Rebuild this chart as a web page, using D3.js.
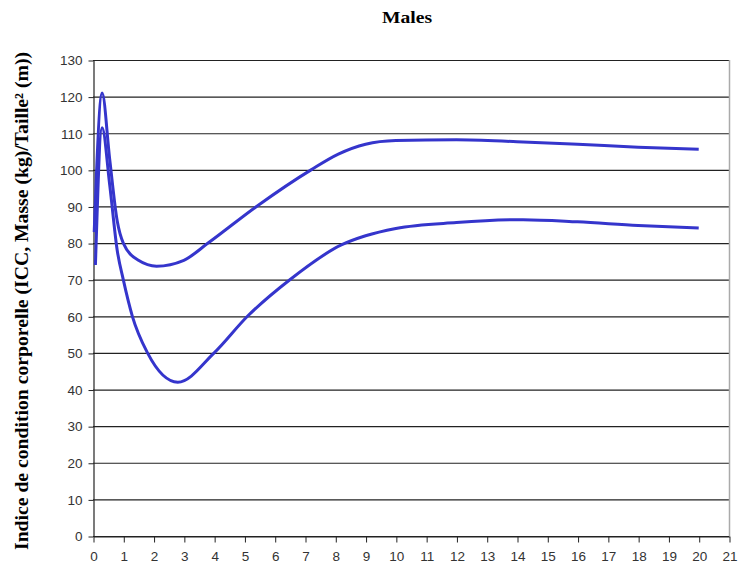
<!DOCTYPE html>
<html>
<head>
<meta charset="utf-8">
<script src="https://cdn.jsdelivr.net/npm/d3@7"></script>
<style>
  body { margin: 0; background: #fff; }
  svg { display: block; }
</style>
</head>
<body>
<script>
// values
const upperAge = [0.04, 0.3, 0.55, 0.8, 1, 1.5, 2.1, 3, 3.8, 5.4, 7.2, 8.1, 9, 10, 12, 14, 16, 18, 20];
const upperVal = [83, 121, 103, 86, 80, 75.3, 73.7, 75.3, 80, 90, 100, 104.3, 107, 108, 108.2, 107.7, 107, 106.2, 105.6];
const lowerAge = [0.08, 0.3, 0.55, 0.8, 1, 1.3, 1.8, 2.8, 4, 5.1, 6.5, 8.2, 9, 10, 12, 14.2, 16, 18, 20];
const lowerVal = [74, 111.5, 96, 78, 70, 60, 50, 42, 50, 60, 70, 79.5, 82, 84, 85.6, 86.4, 85.8, 84.8, 84.1];
const xTicks = d3.range(0, 22);
const yTicks = d3.range(0, 131, 10);

const width = 746, height = 572;
const margin = {top: 60, right: 17, bottom: 36, left: 93};

const svg = d3.select("body").append("svg")
  .attr("width", width)
  .attr("height", height);

const x = d3.scaleLinear().domain([0, 21]).range([margin.left, width - margin.right]);
const y = d3.scaleLinear().domain([0, 130]).range([height - margin.bottom, margin.top]);

// horizontal grid
svg.append("g")
  .selectAll("line")
  .data(yTicks)
  .join("line")
  .attr("x1", x(0))
  .attr("x2", x(21))
  .attr("y1", d => y(d) + 0.5)
  .attr("y2", d => y(d) + 0.5)
  .attr("stroke", "#222")
  .attr("stroke-width", 1.2);

// right border
svg.append("line")
  .attr("x1", x(21) + 0.5).attr("x2", x(21) + 0.5)
  .attr("y1", y(130)).attr("y2", y(0))
  .attr("stroke", "#aaa")
  .attr("stroke-width", 1.5);

const yAxis = svg.append("g")
  .attr("transform", `translate(${x(0) + 0.5},0.5)`)
  .call(d3.axisLeft(y).tickValues(yTicks).tickSize(5).tickPadding(6).tickSizeOuter(0));

const xAxis = svg.append("g")
  .attr("transform", `translate(0.5,${y(0) + 0.5})`)
  .call(d3.axisBottom(x).tickValues(xTicks).tickSize(6).tickPadding(9).tickSizeOuter(0));

[yAxis, xAxis].forEach(a => {
  a.select(".domain").attr("stroke", "#222").attr("stroke-width", 1.2);
  a.selectAll(".tick line").attr("stroke", "#222");
  a.selectAll("text")
    .attr("fill", "#333")
    .style("font-family", "Liberation Sans, Arial, sans-serif")
    .style("font-size", "13.5px");
});

const line = d3.line()
  .x(d => x(d[0]))
  .y(d => y(d[1]))
  .curve(d3.curveMonotoneX);

[[upperAge, upperVal], [lowerAge, lowerVal]].forEach(([ages, vals]) => {
  svg.append("path")
    .datum(ages.map((a, i) => [a, vals[i]]))
    .attr("d", line)
    .attr("fill", "none")
    .attr("stroke", "#3535cc")
    .attr("stroke-width", 3)
    .attr("stroke-linejoin", "round");
});

svg.append("text")
  .attr("x", 382)
  .attr("y", 23)
  .attr("textLength", 50)
  .attr("lengthAdjust", "spacingAndGlyphs")
  .style("font-family", "Liberation Serif, Times New Roman, serif")
  .style("font-weight", "bold")
  .style("font-size", "16px")
  .text("Males");

svg.append("text")
  .attr("transform", `translate(28,${(50 + 552) / 2}) rotate(-90)`)
  .attr("text-anchor", "middle")
  .attr("textLength", 498)
  .attr("lengthAdjust", "spacingAndGlyphs")
  .style("font-family", "Liberation Serif, Times New Roman, serif")
  .style("font-weight", "bold")
  .style("font-size", "19px")
  .text("Indice de condition corporelle (ICC, Masse (kg)/Taille² (m))");
</script>
</body>
</html>
